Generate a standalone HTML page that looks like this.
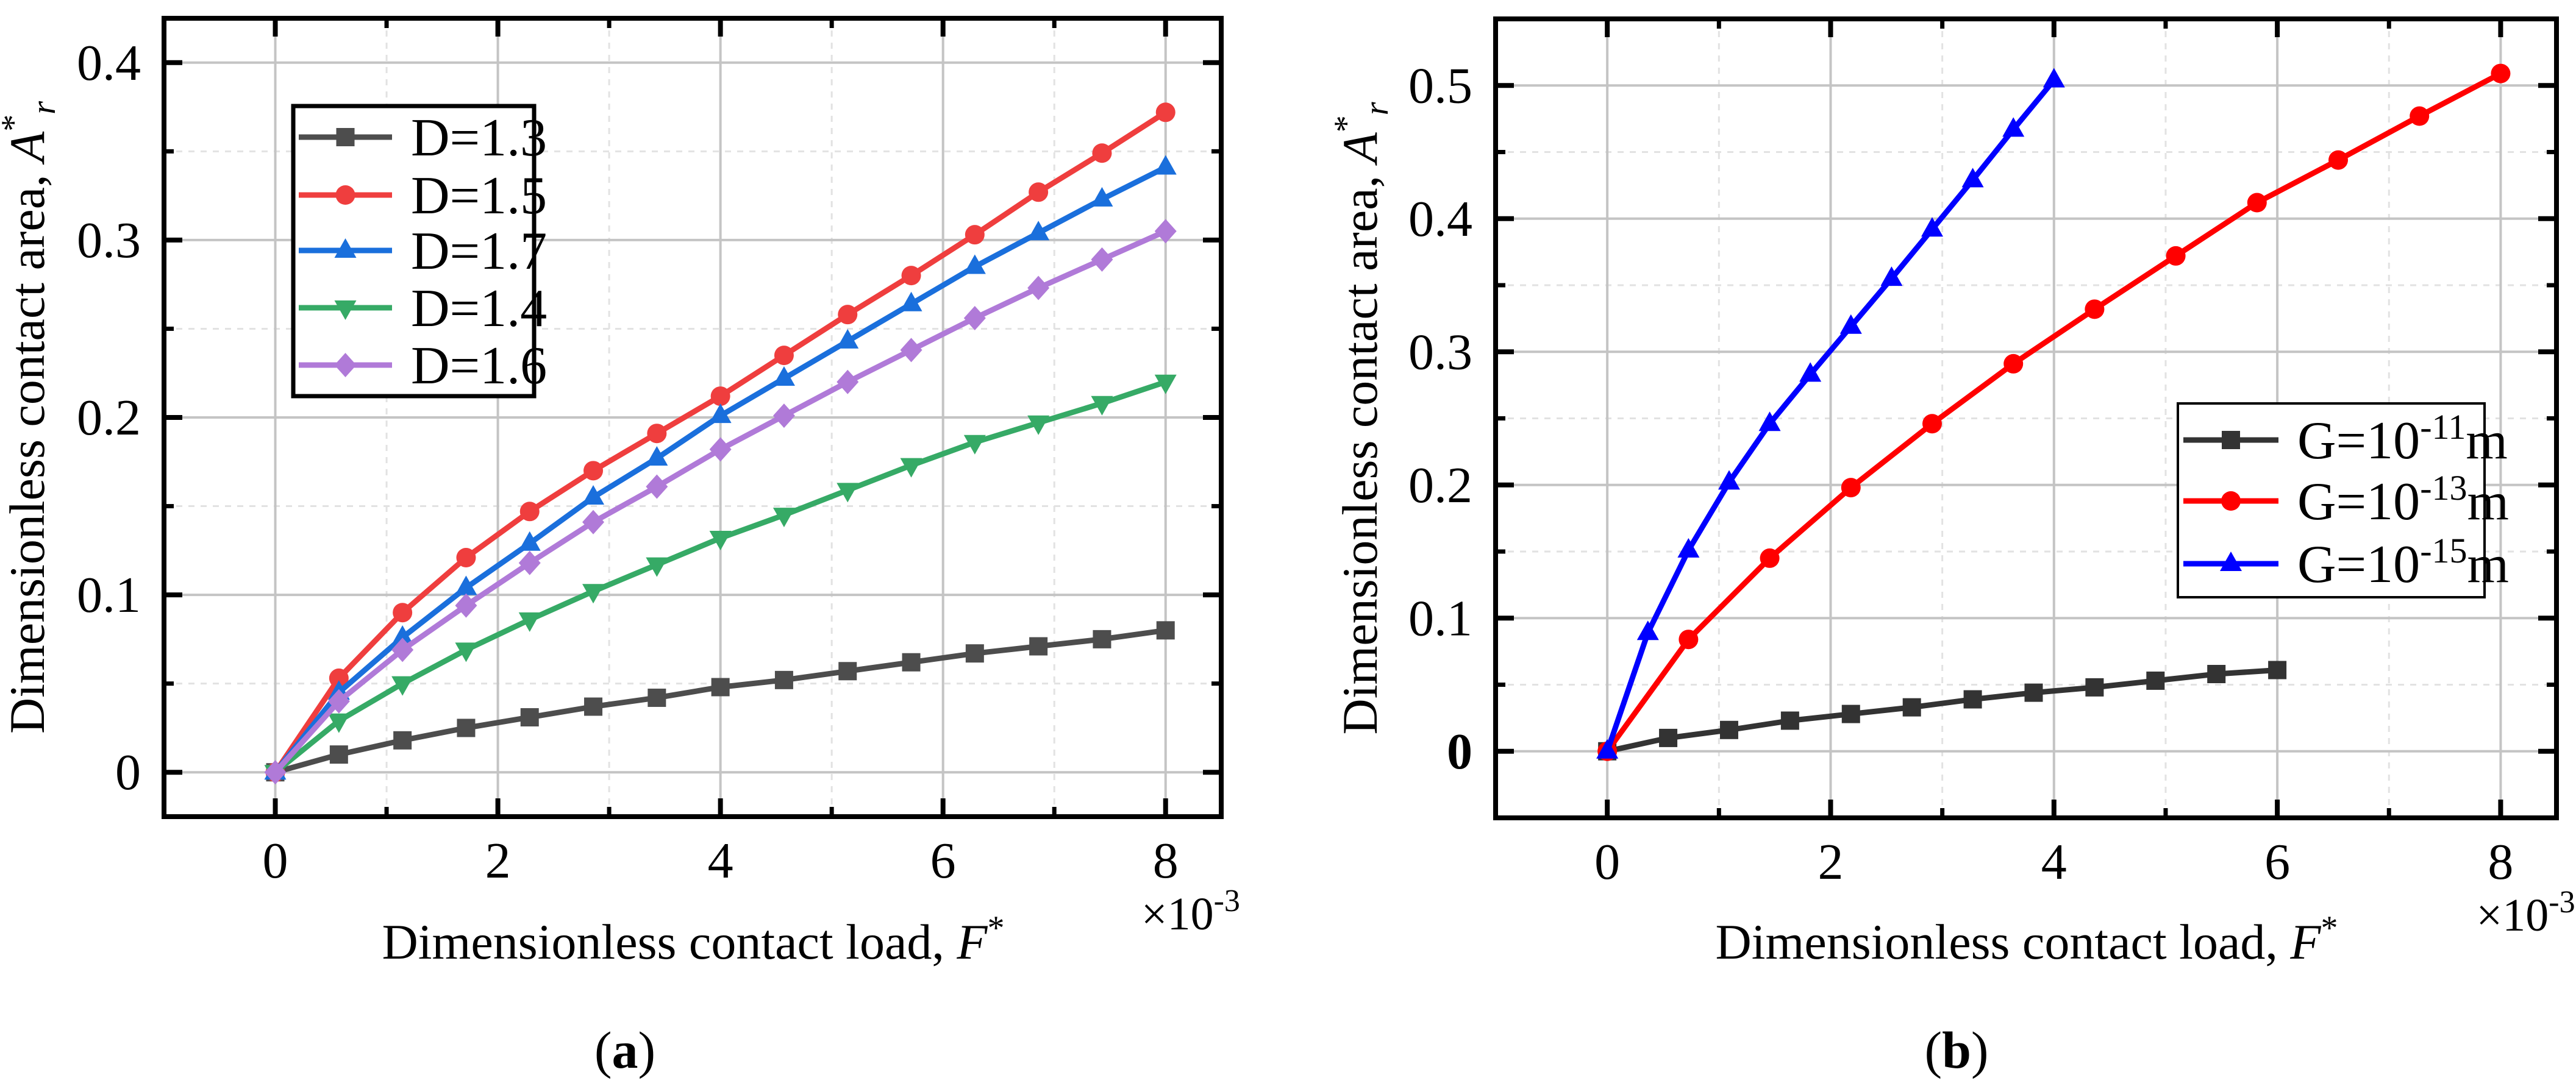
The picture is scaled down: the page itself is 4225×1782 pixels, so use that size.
<!DOCTYPE html>
<html><head><meta charset="utf-8"><style>
html,body{margin:0;padding:0;background:#fff;}
svg{display:block;font-family:"Liberation Serif",serif;}
</style></head><body>
<svg id="fig" width="4225" height="1782" viewBox="0 0 4225 1782" xmlns="http://www.w3.org/2000/svg"></svg>
<script>
// ---- Panel (a) data ----
const aX = [0,0.5714,1.1429,1.7143,2.2857,2.8571,3.4286,4,4.5714,5.1429,5.7143,6.2857,6.8571,7.4286,8];
const aD13 = [0,0.010,0.018,0.025,0.031,0.037,0.042,0.048,0.052,0.057,0.062,0.067,0.071,0.075,0.080];
const aD15 = [0,0.053,0.090,0.121,0.147,0.170,0.191,0.212,0.235,0.258,0.280,0.303,0.327,0.349,0.372];
const aD17 = [0,0.045,0.076,0.104,0.129,0.155,0.177,0.201,0.222,0.243,0.264,0.285,0.304,0.323,0.341];
const aD14 = [0,0.029,0.050,0.069,0.086,0.102,0.117,0.132,0.145,0.159,0.173,0.186,0.197,0.208,0.220];
const aD16 = [0,0.040,0.069,0.094,0.118,0.141,0.161,0.182,0.201,0.220,0.238,0.256,0.273,0.289,0.305];
const aXTicks = [0,2,4,6,8];
const aYTicks = [0,0.1,0.2,0.3,0.4];
const aYTickLabels = ["0","0.1","0.2","0.3","0.4"];
// ---- Panel (b) data ----
const bX11 = [0,0.5455,1.0909,1.6364,2.1818,2.7273,3.2727,3.8182,4.3636,4.9091,5.4545,6];
const bY11 = [0,0.010,0.016,0.023,0.028,0.033,0.039,0.044,0.048,0.053,0.058,0.061];
const bX13 = [0,0.7273,1.4545,2.1818,2.9091,3.6364,4.3636,5.0909,5.8182,6.5455,7.2727,8];
const bY13 = [0,0.084,0.145,0.198,0.246,0.291,0.332,0.372,0.412,0.444,0.477,0.509];
const bX15 = [0,0.3636,0.7273,1.0909,1.4545,1.8182,2.1818,2.5455,2.9091,3.2727,3.6364,4];
const bY15 = [0,0.089,0.151,0.202,0.246,0.283,0.319,0.355,0.392,0.429,0.467,0.504];
const bXTicks = [0,2,4,6,8];
const bYTicks = [0,0.1,0.2,0.3,0.4,0.5];
const bYTickLabels = ["0","0.1","0.2","0.3","0.4","0.5"];

const NS="http://www.w3.org/2000/svg";
const svg=document.getElementById('fig');
function mk(tag,attrs,parent,name,inter){
  const e=document.createElementNS(NS,tag);
  for(const k in attrs) e.setAttribute(k,attrs[k]);
  
  
  (parent||svg).appendChild(e); return e;
}
function marker(g,shape,cx,cy,color,name){
  const s=15;
  if(shape==='square') return mk('rect',{x:cx-s,y:cy-s,width:2*s,height:2*s,fill:color},g,name);
  if(shape==='circle') return mk('circle',{cx:cx,cy:cy,r:16,fill:color},g,name);
  if(shape==='up') return mk('polygon',{points:`${cx},${cy-20} ${cx+18},${cy+12} ${cx-18},${cy+12}`,fill:color},g,name);
  if(shape==='down') return mk('polygon',{points:`${cx},${cy+20} ${cx+18},${cy-12} ${cx-18},${cy-12}`,fill:color},g,name);
  if(shape==='diamond') return mk('polygon',{points:`${cx},${cy-20} ${cx+18},${cy} ${cx},${cy+20} ${cx-18},${cy}`,fill:color},g,name);
}
function panel(o){
  const g=mk('g',{},svg,o.name);
  const sx=v=>o.L+(v-o.xmin)/(o.xmax-o.xmin)*(o.R-o.L);
  const sy=v=>o.B-(v-o.ymin)/(o.ymax-o.ymin)*(o.B-o.T);
  [1,3,5,7].forEach(v=>mk('line',{x1:sx(v),x2:sx(v),y1:o.T,y2:o.B,stroke:'#e2e2e2','stroke-width':3,'stroke-dasharray':'10,10'},g,'minor-grid-x'));
  for(let i=0;i<o.yt.length;i++){ const v=o.yt[i]+o.ystep/2; if(v<o.ymax) mk('line',{x1:o.L,x2:o.R,y1:sy(v),y2:sy(v),stroke:'#e2e2e2','stroke-width':3,'stroke-dasharray':'10,10'},g,'minor-grid-y');}
  o.xt.forEach(v=>mk('line',{x1:sx(v),x2:sx(v),y1:o.T,y2:o.B,stroke:'#c4c4c4','stroke-width':4},g,'major-grid-x'));
  o.yt.forEach(v=>mk('line',{x1:o.L,x2:o.R,y1:sy(v),y2:sy(v),stroke:'#c4c4c4','stroke-width':4},g,'major-grid-y'));
  o.xt.forEach(v=>{mk('line',{x1:sx(v),x2:sx(v),y1:o.B,y2:o.B-30,stroke:'#000','stroke-width':8},g,'x-tick');mk('line',{x1:sx(v),x2:sx(v),y1:o.T,y2:o.T+30,stroke:'#000','stroke-width':8},g,'x-tick-top');});
  [1,3,5,7].forEach(v=>{mk('line',{x1:sx(v),x2:sx(v),y1:o.B,y2:o.B-16,stroke:'#000','stroke-width':7},g,'x-minor-tick');mk('line',{x1:sx(v),x2:sx(v),y1:o.T,y2:o.T+16,stroke:'#000','stroke-width':7},g,'x-minor-tick-top');});
  o.yt.forEach(v=>{mk('line',{x1:o.L,x2:o.L+30,y1:sy(v),y2:sy(v),stroke:'#000','stroke-width':8},g,'y-tick');mk('line',{x1:o.R,x2:o.R-30,y1:sy(v),y2:sy(v),stroke:'#000','stroke-width':8},g,'y-tick-right');});
  o.yt.forEach(v=>{const m=v+o.ystep/2; if(m<o.ymax){mk('line',{x1:o.L,x2:o.L+16,y1:sy(m),y2:sy(m),stroke:'#000','stroke-width':7},g,'y-minor-tick');mk('line',{x1:o.R,x2:o.R-16,y1:sy(m),y2:sy(m),stroke:'#000','stroke-width':7},g,'y-minor-tick-right');}});
  o.series.forEach(s=>{
    const sg=mk('g',{},g,s.name);
    mk('polyline',{points:s.x.map((v,i)=>sx(v)+','+sy(s.y[i])).join(' '),fill:'none',stroke:s.color,'stroke-width':9,'stroke-linejoin':'round'},sg,s.name+'-line');
    s.x.forEach((v,i)=>marker(sg,s.shape,sx(v),sy(s.y[i]),s.color,s.name+'-point'));
  });
  mk('rect',{x:o.L,y:o.T,width:o.R-o.L,height:o.B-o.T,fill:'none',stroke:'#000','stroke-width':8},g,'plot-frame');
  o.xt.forEach(v=>{const t=mk('text',{x:sx(v),y:o.B+100,'font-size':84,'text-anchor':'middle'},g,'x-tick-label');t.textContent=String(v);});
  o.yt.forEach((v,i)=>{const t=mk('text',{x:o.L-38,y:sy(v)+28,'font-size':84,'text-anchor':'end','font-weight':(o.boldZero&&i===0)?'bold':'normal'},g,'y-tick-label');t.textContent=o.ytl[i];});
  const ex=mk('text',{x:sx(8)-40,y:o.B+185,'font-size':76},g,'x-exponent-label');
  ex.innerHTML='×10<tspan dy="-30" font-size="52">-3</tspan>';
  const xt=mk('text',{x:o.xtitle,y:1573,'font-size':82,'text-anchor':'middle'},g,'x-axis-title');
  xt.innerHTML='Dimensionless contact load, <tspan font-style="italic">F</tspan><tspan dy="-32" font-size="56">*</tspan>';
  const yt=mk('text',{x:0,y:0,'font-size':82,'text-anchor':'middle',transform:`translate(${o.ytitleX},${(o.T+o.B)/2}) rotate(-90)`},g,'y-axis-title');
  yt.innerHTML='Dimensionless contact area, <tspan font-style="italic">A</tspan><tspan dy="-32" font-size="56">*</tspan><tspan dy="50" font-size="56" font-style="italic">r</tspan>';
  const cap=mk('text',{x:o.cap,y:1752,'font-size':86,'text-anchor':'middle'},g,'panel-caption');
  cap.innerHTML='(<tspan font-weight="bold">'+o.capl+'</tspan>)';
  const lg=mk('g',{},g,'legend');
  const lb=o.legend;
  mk('rect',{x:lb.x,y:lb.y,width:lb.w,height:lb.h,fill:'#fff',stroke:'#000','stroke-width':lb.sw},lg,'legend-box');
  o.series.forEach((s,i)=>{
    const yy=lb.rows[i];
    const eg=mk('g',{},lg,'legend-entry');
    mk('line',{x1:lb.l1,x2:lb.l2,y1:yy,y2:yy,stroke:s.color,'stroke-width':9},eg,'legend-line');
    marker(eg,s.shape,(lb.l1+lb.l2)/2,yy,s.color,'legend-marker');
    const t=mk('text',{x:lb.tx,y:yy+30,'font-size':88},eg,'legend-label');
    t.innerHTML=s.label;
  });
}
panel({name:'panel-a',L:269,R:2003,T:30,B:1340,xmin:-1,xmax:8.5,ymin:-0.025,ymax:0.425,ystep:0.1,
  xt:aXTicks,yt:aYTicks,ytl:aYTickLabels,xtitle:1137,ytitleX:72,cap:1025,capl:'a',
  legend:{x:481,y:174,w:395,h:476,sw:7,rows:[225,320,411,505,599],l1:490,l2:643,tx:674},
  series:[
    {name:'series-d13',x:aX,y:aD13,color:'#4d4d4d',shape:'square',label:'D=1.3'},
    {name:'series-d15',x:aX,y:aD15,color:'#ef3e3e',shape:'circle',label:'D=1.5'},
    {name:'series-d17',x:aX,y:aD17,color:'#1a6fdc',shape:'up',label:'D=1.7'},
    {name:'series-d14',x:aX,y:aD14,color:'#36aa66',shape:'down',label:'D=1.4'},
    {name:'series-d16',x:aX,y:aD16,color:'#b07ad8',shape:'diamond',label:'D=1.6'}]});
panel({name:'panel-b',L:2453,R:4193,T:31,B:1342,xmin:-1,xmax:8.5,ymin:-0.05,ymax:0.55,ystep:0.1,boldZero:true,
  xt:bXTicks,yt:bYTicks,ytl:bYTickLabels,xtitle:3324,ytitleX:2258,cap:3209,capl:'b',
  legend:{x:3572,y:662,w:503,h:318,sw:4,rows:[722,822,925],l1:3581,l2:3737,tx:3768},
  series:[
    {name:'series-g11',x:bX11,y:bY11,color:'#333333',shape:'square',label:'G=10<tspan dy="-32" font-size="58">-11</tspan><tspan dy="32">m</tspan>'},
    {name:'series-g13',x:bX13,y:bY13,color:'#ff0000',shape:'circle',label:'G=10<tspan dy="-32" font-size="58">-13</tspan><tspan dy="32">m</tspan>'},
    {name:'series-g15',x:bX15,y:bY15,color:'#0000ff',shape:'up',label:'G=10<tspan dy="-32" font-size="58">-15</tspan><tspan dy="32">m</tspan>'}]});
</script>
</body></html>
